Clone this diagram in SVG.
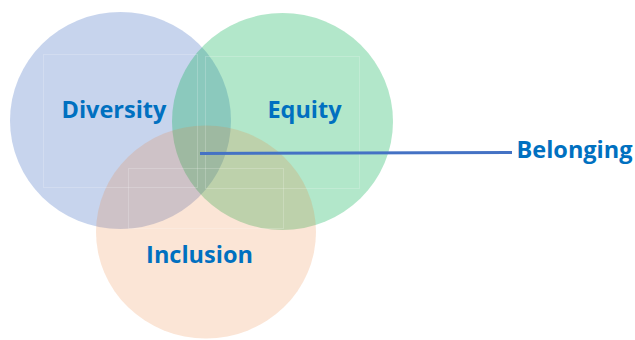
<svg xmlns="http://www.w3.org/2000/svg" width="635" height="340" viewBox="0 0 635 340">
  <style>
    .label { font-family: "Open Sans", "Liberation Sans", sans-serif; font-weight: bold; font-size: 23.5px; fill: #0070C0; text-anchor: middle; }
    .box { fill: none; stroke: #FFFFFF; stroke-opacity: 0.2; stroke-width: 1; }
  </style>
  <rect width="635" height="340" fill="#FFFFFF"/>

  <g id="diversity">
    <ellipse cx="120.5" cy="120.5" rx="110.5" ry="108.5" fill="#4472C4" fill-opacity="0.3"/>
  </g>
  <g id="equity">
    <ellipse cx="282.5" cy="121.5" rx="110.5" ry="108.5" fill="#00B050" fill-opacity="0.3"/>
  </g>
  <g id="inclusion">
    <ellipse cx="206" cy="232" rx="110" ry="106.5" fill="#ED7D31" fill-opacity="0.2"/>
  </g>

  <!-- faint text-box frames -->
  <rect class="box" x="43.5" y="54.5" width="154" height="133"/>
  <rect class="box" x="205.5" y="56.5" width="154" height="132"/>
  <rect class="box" x="128.5" y="168.5" width="155" height="60"/>

  <g id="connectors">
    <line x1="200" y1="153.5" x2="512" y2="152.5" stroke="#4472C4" stroke-width="3"/>
  </g>

  <text class="label" x="114" y="117.5">Diversity</text>
  <text class="label" x="304.5" y="118">Equity</text>
  <text class="label" x="199.5" y="262.5">Inclusion</text>
  <g id="belonging">
    <text class="label" x="574.5" y="157.5">Belonging</text>
  </g>
</svg>
